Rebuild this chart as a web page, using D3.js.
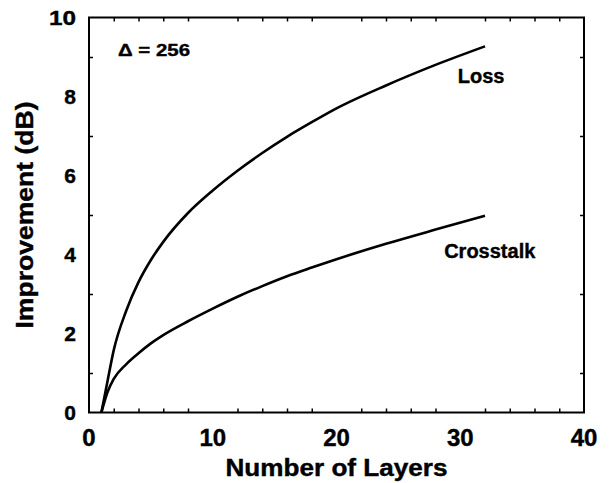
<!DOCTYPE html>
<html>
<head>
<meta charset="utf-8">
<script src="https://cdn.jsdelivr.net/npm/d3@7"></script>
<style>
  body { margin: 0; background: #fff; }
  text { font-family: "Liberation Sans", Arial, Helvetica, sans-serif; font-weight: bold; fill: #000; stroke: #000; stroke-width: 0.4; }
</style>
</head>
<body>
<svg id="chart"></svg>
<script>
// values
const layers = [1, 1.5, 2, 3, 4, 5, 6, 8, 10, 12, 14, 16, 18, 20, 24, 28, 32];
const lossDb = [0, 0.8, 1.58, 2.57, 3.3, 3.86, 4.32, 5.05, 5.62, 6.12, 6.57, 6.98, 7.35, 7.7, 8.28, 8.8, 9.27];
const crosstalkDb = [0, 0.52, 0.85, 1.22, 1.5, 1.75, 1.96, 2.31, 2.63, 2.93, 3.2, 3.45, 3.67, 3.88, 4.27, 4.63, 4.98];
const xTicks = [0, 10, 20, 30, 40];
const yTicks = [0, 2, 4, 6, 8, 10];
const curveLabels = [
  { name: "Loss", x: 29.8, y: 8.35 },
  { name: "Crosstalk", x: 28.7, y: 3.9 }
];
const deltaLabel = "\u0394 = 256";

const w = 609, h = 483;
const margin = { top: 17.5, right: 25, bottom: 70.5, left: 89 };

const svg = d3.select("#chart").attr("width", w).attr("height", h);

const x = d3.scaleLinear().domain([0, 40]).range([margin.left, w - margin.right]);
const y = d3.scaleLinear().domain([0, 10]).range([h - margin.bottom, margin.top]);

// minor ticks
const xMinor = d3.range(2, 40, 2).filter(d => d % 10 !== 0);
const yMinor = d3.range(1, 10, 1).filter(d => d % 2 !== 0);

function tickAxis(axisFn, scale, major, minor, transform) {
  const g = svg.append("g").attr("transform", transform);
  g.call(axisFn(scale).tickValues(major).tickSize(-6).tickFormat(""));
  g.call(axisFn(scale).tickValues(minor).tickSize(-4).tickFormat(""));
  g.selectAll(".domain").remove();
  g.selectAll("line").attr("stroke", "#000").attr("stroke-width", 1.5);
  return g;
}

const y0 = y(0), yTop = y(10), xL = x(0), xR = x(40);
tickAxis(d3.axisBottom, x, xTicks, xMinor, `translate(0,${y0})`);
tickAxis(d3.axisTop, x, xTicks, xMinor, `translate(0,${yTop})`);
tickAxis(d3.axisLeft, y, yTicks, yMinor, `translate(${xL},0)`);
tickAxis(d3.axisRight, y, yTicks, yMinor, `translate(${xR},0)`);

// frame
svg.append("rect")
  .attr("x", xL).attr("y", yTop)
  .attr("width", xR - xL).attr("height", y0 - yTop)
  .attr("fill", "none").attr("stroke", "#000").attr("stroke-width", 2);

// tick labels
svg.selectAll(".xlab").data(xTicks).enter().append("text")
  .attr("x", d => x(d)).attr("y", 446)
  .attr("text-anchor", "middle").attr("font-size", 24)
  .text(d => d);

svg.selectAll(".ylab").data(yTicks).enter().append("text")
  .attr("x", 76).attr("y", d => y(d) + 7.5)
  .attr("text-anchor", "end").attr("font-size", 21)
  .attr("textLength", d => d >= 10 ? 27 : null)
  .attr("lengthAdjust", "spacingAndGlyphs")
  .text(d => d);

// axis titles
svg.append("text")
  .attr("x", (xL + xR) / 2).attr("y", 476)
  .attr("text-anchor", "middle").attr("font-size", 23)
  .attr("textLength", 222).attr("lengthAdjust", "spacingAndGlyphs")
  .text("Number of Layers");

svg.append("text")
  .attr("transform", `translate(33,${(y0 + yTop) / 2}) rotate(-90)`)
  .attr("text-anchor", "middle").attr("font-size", 24)
  .attr("textLength", 227).attr("lengthAdjust", "spacingAndGlyphs")
  .text("Improvement (dB)");

// curves
const line = d3.line()
  .x(d => x(d[0]))
  .y(d => y(d[1]))
  .curve(d3.curveMonotoneX);

[lossDb, crosstalkDb].forEach(vals => {
  svg.append("path")
    .datum(layers.map((n, i) => [n, vals[i]]))
    .attr("d", line)
    .attr("fill", "none")
    .attr("stroke", "#000")
    .attr("stroke-width", 2.6)
    .attr("stroke-linejoin", "round");
});

svg.selectAll(".clab").data(curveLabels).enter().append("text")
  .attr("x", d => x(d.x)).attr("y", d => y(d.y))
  .attr("font-size", 20)
  .text(d => d.name);

svg.append("text")
  .attr("x", 118).attr("y", 56)
  .attr("font-size", 17)
  .attr("textLength", 72).attr("lengthAdjust", "spacingAndGlyphs")
  .text(deltaLabel);
</script>
</body>
</html>
